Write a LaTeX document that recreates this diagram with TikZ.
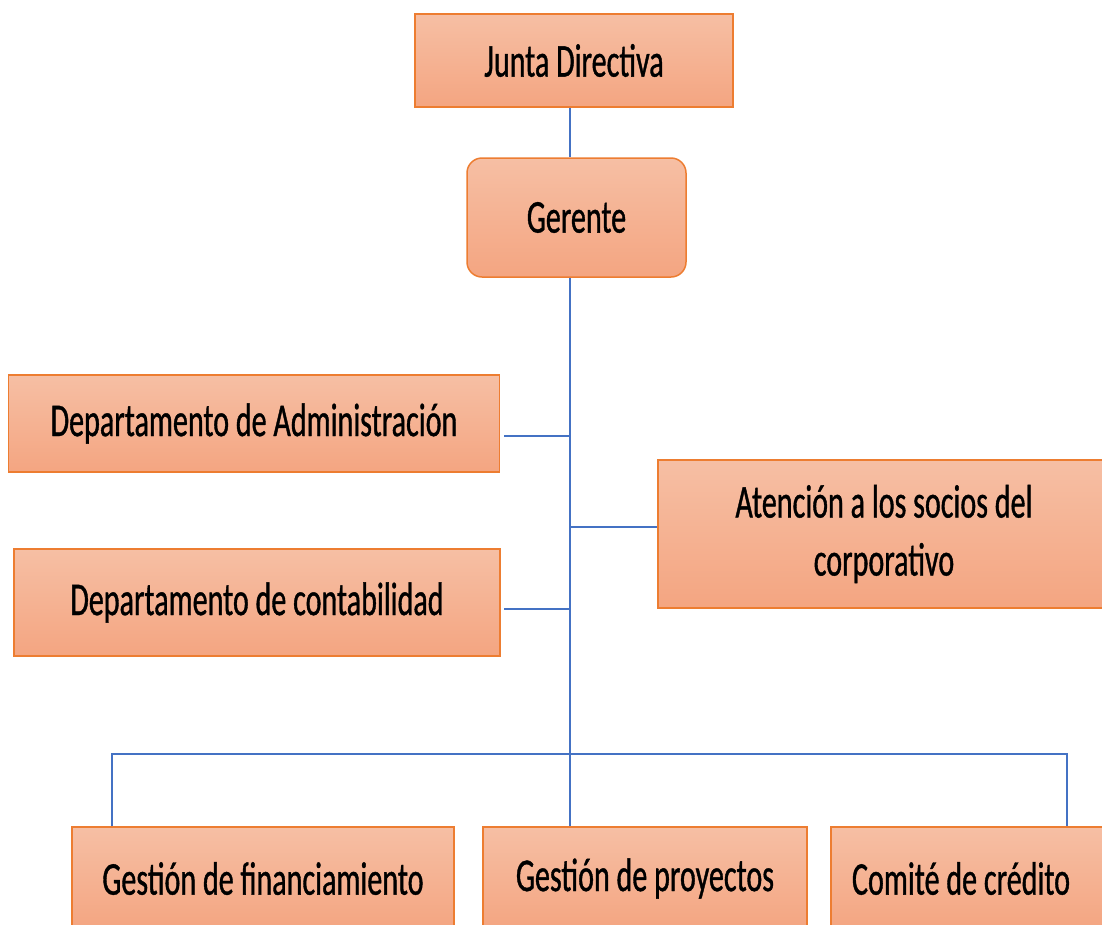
\documentclass[tikz,border=0pt]{standalone}
\usepackage{fontspec}
\newfontfamily\orgfont[FakeStretch=0.64,FakeBold=0.8]{Carlito}
\definecolor{boxline}{HTML}{ED7D31}
\definecolor{boxtop}{HTML}{F6BFA4}
\definecolor{boxbot}{HTML}{F4A581}
\definecolor{linkblue}{HTML}{4472C4}

\begin{document}
\begin{tikzpicture}[x=1pt,y=-1pt,
    box/.style={draw=boxline,line width=1.5pt,top color=boxtop,bottom color=boxbot,
      inner sep=0pt,align=center,font=\orgfont\fontsize{47}{58}\selectfont},
    link/.style={draw=linkblue,line width=1.2pt}]
      \useasboundingbox (0,0) rectangle (1102,924);

      \node[box,minimum width=318pt,minimum height=93pt] (junta) at (574,60.5){Junta Directiva};
      \node[box,rounded corners=15pt,minimum width=219pt,minimum height=119pt] (gerente) at (576.5,217.5){Gerente};

      \node[box,minimum width=491pt,minimum height=97pt] (admin) at (254,423.5){Departamento de Administración};
      \node[box,minimum width=486pt,minimum height=107pt] (conta) at (257,602.5){Departamento de contabilidad};
      \node[box,minimum width=452pt,minimum height=148pt] (socios) at (884,534){Atención a los socios del\\corporativo};

      \node[box,minimum width=382pt,minimum height=103pt] (finan) at (263,878.5){Gestión de financiamiento};
      \node[box,minimum width=324pt,minimum height=103pt] (proy) at (645,878.5){Gestión de proyectos};
      \node[box,minimum height=103pt,text width=248pt,align=flush left,inner xsep=21pt] (comite) at (976,878.5){Comité de crédito};

      % trunk and branch points
      \coordinate (trunk) at (570,0);
      \coordinate (jadm) at (570,436);
      \coordinate (jsoc) at (570,527);
      \coordinate (jcon) at (570,609);
      \coordinate (busl) at (112,754);
      \coordinate (busr) at (1067,754);

      \draw[link] (junta.south -| trunk) -- (gerente.north -| trunk);
      \draw[link] (gerente.south -| trunk) -- (proy.north -| trunk);
      \draw[link] (jadm) -- ([xshift=4pt]admin.east |- jadm);
      \draw[link] (jcon) -- ([xshift=3pt]conta.east |- jcon);
      \draw[link] (jsoc) -- (socios.west |- jsoc);
      \draw[link] (finan.north -| busl) -- (busl) -- (busr) -- (comite.north -| busr);
    \end{tikzpicture}
\end{document}
